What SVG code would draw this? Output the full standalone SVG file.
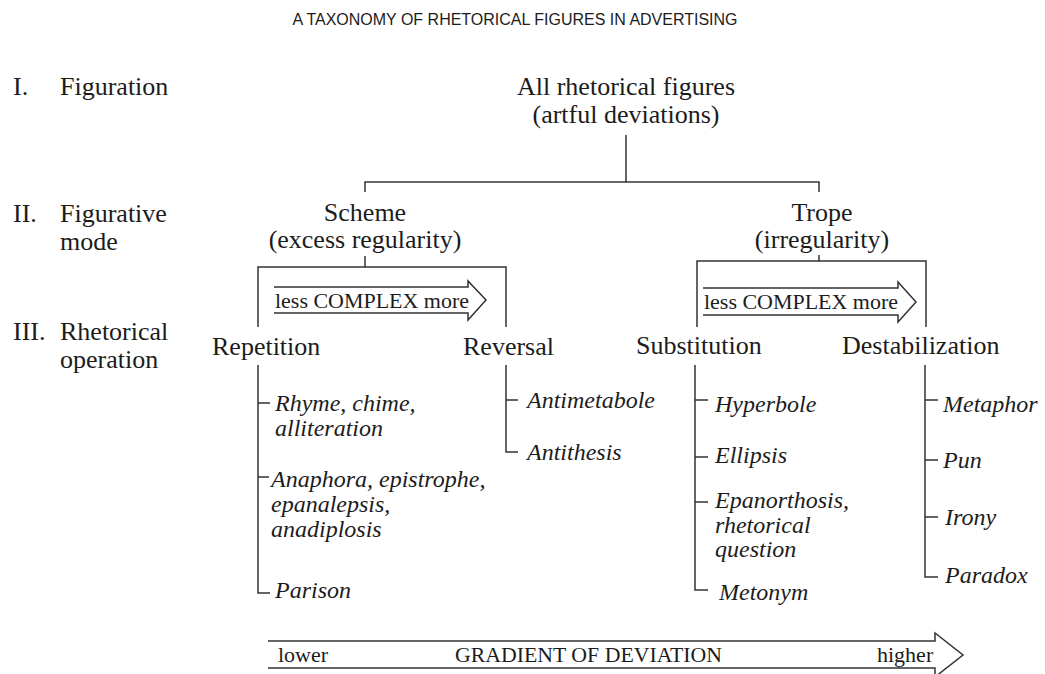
<svg xmlns="http://www.w3.org/2000/svg" width="1045" height="674" viewBox="0 0 1045 674">
<style>
  .bg{fill:#ffffff}
  .t{font-family:"Liberation Serif","Times New Roman",serif;fill:#1c1c1c}
  .lv{font-size:26px}
  .nd{font-size:26px}
  .it{font-size:24px;font-style:italic}
  .ar{font-size:22px}
  .ttl{font-family:"Liberation Sans",Arial,sans-serif;font-size:16px;fill:#1c1c1c}
  .c{fill:none;stroke:#333;stroke-width:1.5}
  .mid{text-anchor:middle}
</style>
<rect class="bg" x="0" y="0" width="1045" height="674"/>
<g id="title"><text class="ttl mid" x="515" y="25">A TAXONOMY OF RHETORICAL FIGURES IN ADVERTISING</text></g>

<g id="levels">
  <g id="level1"><text class="t lv" x="13" y="95">I.</text><text class="t lv" x="60" y="95">Figuration</text></g>
  <g id="level2"><text class="t lv" x="13" y="222">II.</text><text class="t lv" x="60" y="222">Figurative<tspan x="60" dy="28">mode</tspan></text></g>
  <g id="level3"><text class="t lv" x="13" y="340">III.</text><text class="t lv" x="60" y="340">Rhetorical<tspan x="60" dy="28">operation</tspan></text></g>
</g>

<g id="connectors">
  <path class="c" d="M626,135 V182"/>
  <path class="c" d="M365,192 V182 H819 V192"/>
  <path class="c" d="M365,256 V267"/>
  <path class="c" d="M258,327 V267 H506 V327"/>
  <path class="c" d="M819,255 V261"/>
  <path class="c" d="M697,327 V261 H926 V327"/>
  <path class="c" d="M258,365 V593 H270 M258,403 H270 M258,477 H269"/>
  <path class="c" d="M506,365 V452 H518 M506,400 H518"/>
  <path class="c" d="M695,365 V590 H708 M695,400 H708 M695,457 H708 M695,502 H708"/>
  <path class="c" d="M925,365 V577 H938 M925,400 H938 M925,460 H938 M925,517 H938"/>
</g>

<g id="all">
  <text class="t nd mid" x="626" y="95">All rhetorical figures<tspan x="626" dy="28">(artful deviations)</tspan></text>
</g>
<g id="scheme">
  <text class="t nd mid" x="365" y="221">Scheme<tspan x="365" dy="27">(excess regularity)</tspan></text>
</g>
<g id="trope">
  <text class="t nd mid" x="822" y="221">Trope<tspan x="822" dy="27">(irregularity)</tspan></text>
</g>

<g id="arrow-scheme">
  <path class="c" d="M274,287 H468 V281 L486,300 L468,320 V313 H274"/>
  <text class="t ar" x="275" y="308" textLength="194" lengthAdjust="spacingAndGlyphs">less  COMPLEX more</text>
</g>
<g id="arrow-trope">
  <path class="c" d="M703,288 H898 V282 L916,302 L898,322 V315 H703"/>
  <text class="t ar" x="704" y="309" textLength="194" lengthAdjust="spacingAndGlyphs">less  COMPLEX more</text>
</g>

<g id="repetition"><text class="t nd" x="212" y="355">Repetition</text></g>
<g id="reversal"><text class="t nd" x="463" y="355">Reversal</text></g>
<g id="substitution"><text class="t nd" x="636" y="354">Substitution</text></g>
<g id="destabilization"><text class="t nd" x="842" y="354">Destabilization</text></g>

<g id="rhyme"><text class="t it" x="275" y="411">Rhyme, chime,<tspan x="275" dy="25">alliteration</tspan></text></g>
<g id="anaphora"><text class="t it" x="271" y="487">Anaphora, epistrophe,<tspan x="271" dy="25">epanalepsis,</tspan><tspan x="271" dy="25">anadiplosis</tspan></text></g>
<g id="parison"><text class="t it" x="275" y="598">Parison</text></g>

<g id="antimetabole"><text class="t it" x="527" y="408">Antimetabole</text></g>
<g id="antithesis"><text class="t it" x="527" y="460">Antithesis</text></g>

<g id="hyperbole"><text class="t it" x="715" y="412">Hyperbole</text></g>
<g id="ellipsis"><text class="t it" x="715" y="463">Ellipsis</text></g>
<g id="epanorthosis"><text class="t it" x="715" y="508">Epanorthosis,<tspan x="715" dy="25">rhetorical</tspan><tspan x="715" dy="24">question</tspan></text></g>
<g id="metonym"><text class="t it" x="719" y="600">Metonym</text></g>

<g id="metaphor"><text class="t it" x="943" y="412">Metaphor</text></g>
<g id="pun"><text class="t it" x="943" y="468">Pun</text></g>
<g id="irony"><text class="t it" x="945" y="525">Irony</text></g>
<g id="paradox"><text class="t it" x="945" y="583">Paradox</text></g>

<g id="gradient">
  <path class="c" d="M268,641 H935 V633 L963,655 L935,677 V668 H268"/>
  <text class="t ar" x="278" y="662">lower</text>
  <text class="t ar" x="455" y="662" textLength="267" lengthAdjust="spacingAndGlyphs">GRADIENT OF DEVIATION</text>
  <text class="t ar" x="877" y="662">higher</text>
</g>
</svg>
